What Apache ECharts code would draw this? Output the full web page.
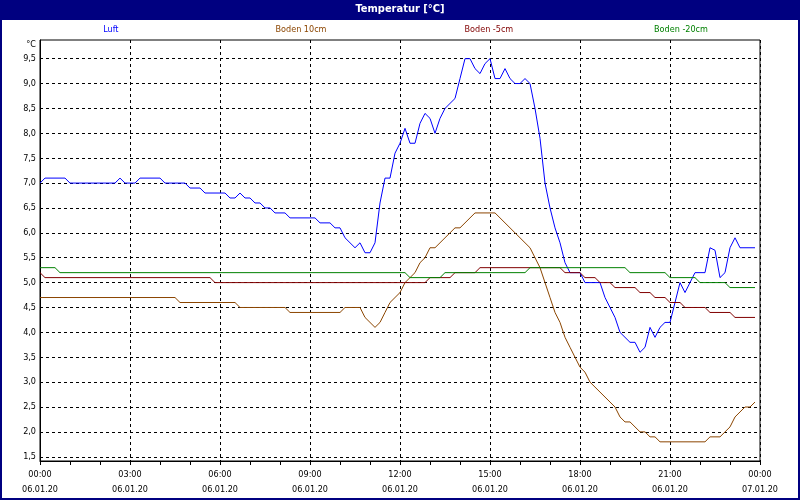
<!DOCTYPE html>
<html>
<head>
<meta charset="utf-8">
<script src="https://cdn.jsdelivr.net/npm/echarts@6/dist/echarts.min.js"></script>
<style>html,body{margin:0;padding:0;background:#fff}#c{width:800px;height:500px}</style>
</head>
<body>
<div id="c"></div>
<script>
// Data: 10-minute samples of 06.01.20, index 0 = 00:00
const seriesNames = ['Luft', 'Boden 10cm', 'Boden -5cm', 'Boden -20cm'];
const luft = [
  7.0,7.1,7.1,7.1,7.1,7.1,7.0,7.0,7.0,7.0,7.0,7.0,
  7.0,7.0,7.0,7.0,7.1,7.0,7.0,7.0,7.1,7.1,7.1,7.1,
  7.1,7.0,7.0,7.0,7.0,7.0,6.9,6.9,6.9,6.8,6.8,6.8,
  6.8,6.8,6.7,6.7,6.8,6.7,6.7,6.6,6.6,6.5,6.5,6.4,
  6.4,6.4,6.3,6.3,6.3,6.3,6.3,6.3,6.2,6.2,6.2,6.1,
  6.1,5.9,5.8,5.7,5.8,5.6,5.6,5.8,6.6,7.1,7.1,7.6,
  7.8,8.1,7.8,7.8,8.2,8.4,8.3,8.0,8.3,8.5,8.6,8.7,
  9.1,9.5,9.5,9.3,9.2,9.4,9.5,9.1,9.1,9.3,9.1,9.0,
  9.0,9.1,9.0,8.5,7.9,7.0,6.5,6.1,5.8,5.4,5.2,5.2,
  5.2,5.0,5.0,5.0,5.0,4.7,4.5,4.3,4.0,3.9,3.8,3.8,
  3.6,3.7,4.1,3.9,4.1,4.2,4.2,4.6,5.0,4.8,5.0,5.2,
  5.2,5.2,5.7,5.65,5.1,5.2,5.7,5.9,5.7,5.7,5.7,5.7
];
const boden10 = [
  4.7,4.7,4.7,4.7,4.7,4.7,4.7,4.7,4.7,4.7,4.7,4.7,
  4.7,4.7,4.7,4.7,4.7,4.7,4.7,4.7,4.7,4.7,4.7,4.7,
  4.7,4.7,4.7,4.7,4.6,4.6,4.6,4.6,4.6,4.6,4.6,4.6,
  4.6,4.6,4.6,4.6,4.5,4.5,4.5,4.5,4.5,4.5,4.5,4.5,
  4.5,4.5,4.4,4.4,4.4,4.4,4.4,4.4,4.4,4.4,4.4,4.4,
  4.4,4.5,4.5,4.5,4.5,4.3,4.2,4.1,4.2,4.4,4.6,4.7,
  4.8,5.0,5.1,5.2,5.4,5.5,5.7,5.7,5.8,5.9,6.0,6.1,
  6.1,6.2,6.3,6.4,6.4,6.4,6.4,6.4,6.3,6.2,6.1,6.0,
  5.9,5.8,5.7,5.5,5.3,5.0,4.7,4.4,4.2,3.9,3.7,3.5,
  3.3,3.2,3.0,2.9,2.8,2.7,2.6,2.5,2.3,2.2,2.2,2.1,
  2.0,2.0,1.9,1.9,1.8,1.8,1.8,1.8,1.8,1.8,1.8,1.8,
  1.8,1.8,1.9,1.9,1.9,2.0,2.1,2.3,2.4,2.5,2.5,2.6
];
const bodenM5 = [
  5.2,5.1,5.1,5.1,5.1,5.1,5.1,5.1,5.1,5.1,5.1,5.1,
  5.1,5.1,5.1,5.1,5.1,5.1,5.1,5.1,5.1,5.1,5.1,5.1,
  5.1,5.1,5.1,5.1,5.1,5.1,5.1,5.1,5.1,5.1,5.1,5.0,
  5.0,5.0,5.0,5.0,5.0,5.0,5.0,5.0,5.0,5.0,5.0,5.0,
  5.0,5.0,5.0,5.0,5.0,5.0,5.0,5.0,5.0,5.0,5.0,5.0,
  5.0,5.0,5.0,5.0,5.0,5.0,5.0,5.0,5.0,5.0,5.0,5.0,
  5.0,5.0,5.0,5.0,5.0,5.0,5.1,5.1,5.1,5.1,5.1,5.2,
  5.2,5.2,5.2,5.2,5.3,5.3,5.3,5.3,5.3,5.3,5.3,5.3,
  5.3,5.3,5.3,5.3,5.3,5.3,5.3,5.3,5.3,5.2,5.2,5.2,
  5.2,5.1,5.1,5.1,5.0,5.0,5.0,4.9,4.9,4.9,4.9,4.9,
  4.8,4.8,4.8,4.7,4.7,4.7,4.6,4.6,4.6,4.5,4.5,4.5,
  4.5,4.5,4.4,4.4,4.4,4.4,4.4,4.3,4.3,4.3,4.3,4.3
];
const bodenM20 = [
  5.3,5.3,5.3,5.3,5.2,5.2,5.2,5.2,5.2,5.2,5.2,5.2,
  5.2,5.2,5.2,5.2,5.2,5.2,5.2,5.2,5.2,5.2,5.2,5.2,
  5.2,5.2,5.2,5.2,5.2,5.2,5.2,5.2,5.2,5.2,5.2,5.2,
  5.2,5.2,5.2,5.2,5.2,5.2,5.2,5.2,5.2,5.2,5.2,5.2,
  5.2,5.2,5.2,5.2,5.2,5.2,5.2,5.2,5.2,5.2,5.2,5.2,
  5.2,5.2,5.2,5.2,5.2,5.2,5.2,5.2,5.2,5.2,5.2,5.2,
  5.2,5.2,5.1,5.1,5.1,5.1,5.1,5.1,5.1,5.2,5.2,5.2,
  5.2,5.2,5.2,5.2,5.2,5.2,5.2,5.2,5.2,5.2,5.2,5.2,
  5.2,5.2,5.3,5.3,5.3,5.3,5.3,5.3,5.3,5.3,5.3,5.3,
  5.3,5.3,5.3,5.3,5.3,5.3,5.3,5.3,5.3,5.3,5.2,5.2,
  5.2,5.2,5.2,5.2,5.2,5.2,5.1,5.1,5.1,5.1,5.1,5.1,
  5.0,5.0,5.0,5.0,5.0,5.0,4.9,4.9,4.9,4.9,4.9,4.9
];
const yTickValues = [1.5,2.0,2.5,3.0,3.5,4.0,4.5,5.0,5.5,6.0,6.5,7.0,7.5,8.0,8.5,9.0,9.5];
const xTickHours = ['00:00','03:00','06:00','09:00','12:00','15:00','18:00','21:00','00:00'];
const xTickDates = ['06.01.20','06.01.20','06.01.20','06.01.20','06.01.20','06.01.20','06.01.20','06.01.20','07.01.20'];
const colors = ['#0000ff', '#8b4500', '#800000', '#008000'];
const legendCenters = [113, 300, 489, 681];

const FONT = '"DejaVu Sans Condensed", "Liberation Sans", Arial, sans-serif';
const sampleMinutes = luft.map((_, i) => i * 10);
const allSeries = [luft, boden10, bodenM5, bodenM20];

function approxWidth(s) { return s.length * 4.9; }

const chart = echarts.init(document.getElementById('c'), null, {renderer: 'canvas'});
chart.setOption({
  animation: false,
  backgroundColor: '#ffffff',
  title: {
    text: 'Temperatur [°C]', left: 'center', top: 4, padding: 0,
    textStyle: {color: '#ffffff', fontSize: 11, fontWeight: 'bold', fontFamily: FONT}
  },
  legend: seriesNames.map((n, k) => ({
    data: [{name: n, textStyle: {color: colors[k]}}],
    icon: 'none', itemWidth: 0, itemHeight: 10, padding: 0,
    left: legendCenters[k] - approxWidth(n) / 2 - 5, top: 25,
    selectedMode: false,
    textStyle: {fontSize: 9, fontFamily: FONT}
  })),
  grid: {left: 40, right: 40, top: 40, bottom: 39, show: true, borderColor: '#000', borderWidth: 1, backgroundColor: '#ffffff'},
  xAxis: {
    type: 'value', min: 0, max: 1440, interval: 180,
    axisLine: {show: true, lineStyle: {color: '#000', width: 1}},
    axisTick: {show: true, length: 4, lineStyle: {color: '#000'}},
    minorTick: {show: true, splitNumber: 3, length: 4, lineStyle: {color: '#000'}},
    minorSplitLine: {show: false},
    splitLine: {show: true, lineStyle: {color: '#000', type: [3, 3], width: 1}},
    axisLabel: {
      margin: 6, lineHeight: 15, fontSize: 9, fontFamily: FONT, color: '#000',
      showMinLabel: true, showMaxLabel: true,
      formatter: v => { const k = Math.round(v / 180); return xTickHours[k] + '\n' + xTickDates[k]; }
    }
  },
  yAxis: {
    type: 'value', min: 1.415, max: 9.875,
    name: '°C', nameLocation: 'end', nameGap: -5,
    nameTextStyle: {align: 'right', verticalAlign: 'middle', padding: [0, 4, 0, 0], fontSize: 9, fontFamily: FONT, color: '#000'},
    axisLine: {show: true, lineStyle: {color: '#000', width: 1}},
    axisTick: {show: false, customValues: yTickValues},
    splitLine: {show: true, lineStyle: {color: '#000', type: [3, 3], width: 1}},
    axisLabel: {
      customValues: yTickValues, margin: 4, fontSize: 9, fontFamily: FONT, color: '#000',
      formatter: v => v.toFixed(1).replace('.', ',')
    }
  },
  graphic: [
    {type: 'rect', z: -1, shape: {x: 0, y: 0, width: 800, height: 20}, style: {fill: '#000080'}, silent: true},
    {type: 'rect', z: 100, shape: {x: 1, y: 1, width: 798, height: 498}, style: {fill: null, stroke: '#000080', lineWidth: 2}, silent: true}
  ],
  series: allSeries.map((arr, k) => ({
    name: seriesNames[k], type: 'line', symbol: 'none', showSymbol: false,
    lineStyle: {color: colors[k], width: 1}, itemStyle: {color: colors[k]},
    data: arr.map((v, i) => [sampleMinutes[i], v]),
    z: 2 + k
  }))
});
</script>
</body>
</html>
